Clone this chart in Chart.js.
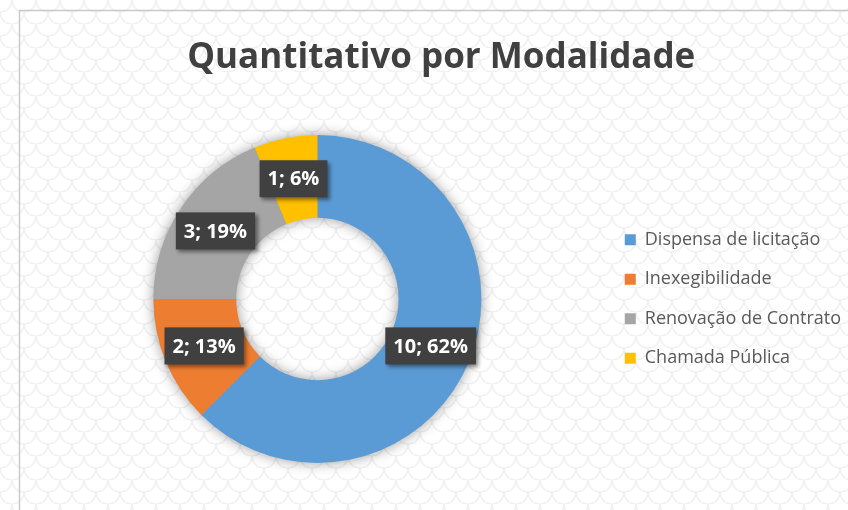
<!DOCTYPE html>
<html>
<head>
<meta charset="utf-8">
<script src="https://cdn.jsdelivr.net/npm/chart.js@4/dist/chart.umd.min.js"></script>
<style>
  html, body { margin: 0; padding: 0; background: #ffffff; }
  #wrap { width: 848px; height: 510px; }
</style>
</head>
<body>
<div id="wrap"><canvas id="c" width="848" height="510"></canvas></div>
<script>
// Quantity of procurements by modality
const chartTitle = 'Quantitativo por Modalidade';
const categories = ['Dispensa de licitação', 'Inexegibilidade', 'Renovação de Contrato', 'Chamada Pública'];
const counts = [10, 2, 3, 1];
const percentLabels = ['62%', '13%', '19%', '6%'];
const sliceColors = ['#5B9BD5', '#ED7D31', '#A5A5A5', '#FFC000'];

// Light scale texture for the page background
function makeScalePattern(ctx) {
  const tile = document.createElement('canvas');
  tile.width = 24; tile.height = 24;
  const t = tile.getContext('2d');
  t.fillStyle = '#ffffff';
  t.fillRect(0, 0, 24, 24);
  t.strokeStyle = '#f0f0f0';
  t.lineWidth = 1.6;
  const rows = [[0, 0], [12, 12], [0, 24]];
  rows.forEach(([ox, oy]) => {
    for (let k = -1; k <= 2; k++) {
      t.beginPath();
      t.arc(ox + k * 24, oy, 12, 0, Math.PI);
      t.stroke();
    }
  });
  return ctx.createPattern(tile, 'repeat');
}

const backgroundPlugin = {
  id: 'backgroundFrame',
  beforeDraw(chart) {
    const ctx = chart.ctx;
    ctx.save();
    ctx.fillStyle = makeScalePattern(ctx);
    ctx.fillRect(0, 0, chart.width, chart.height);
    ctx.strokeStyle = '#c9c9c9';
    ctx.lineWidth = 1.5;
    ctx.beginPath();
    ctx.moveTo(19.5, chart.height + 2);
    ctx.lineTo(19.5, 10.5);
    ctx.lineTo(chart.width + 2, 10.5);
    ctx.stroke();
    ctx.restore();
  }
};

// Soft shadow behind the whole ring
const ringShadowPlugin = {
  id: 'ringShadow',
  beforeDatasetsDraw(chart) {
    const arc = chart.getDatasetMeta(0).data[0];
    if (!arc) return;
    const { x, y, innerRadius, outerRadius } = arc.getProps(['x', 'y', 'innerRadius', 'outerRadius'], true);
    const ctx = chart.ctx;
    ctx.save();
    ctx.shadowColor = 'rgba(0,0,0,0.45)';
    ctx.shadowBlur = 14;
    ctx.fillStyle = '#9a9a9a';
    ctx.beginPath();
    ctx.arc(x, y, outerRadius - 1, 0, Math.PI * 2);
    ctx.arc(x, y, innerRadius + 1, 0, Math.PI * 2, true);
    ctx.fill('evenodd');
    ctx.restore();
  }
};

// Dark value callouts "n; p%" at the middle of each slice
const calloutPlugin = {
  id: 'callouts',
  afterDatasetsDraw(chart) {
    const ctx = chart.ctx;
    const meta = chart.getDatasetMeta(0);
    ctx.save();
    ctx.font = 'bold 20px "Open Sans", sans-serif';
    ctx.textAlign = 'center';
    ctx.textBaseline = 'middle';
    meta.data.forEach((arc, i) => {
      const text = counts[i] + '; ' + percentLabels[i];
      const p = arc.getCenterPoint();
      const w = ctx.measureText(text).width + 16;
      const h = 37;
      ctx.save();
      ctx.shadowColor = 'rgba(0,0,0,0.45)';
      ctx.shadowBlur = 4;
      ctx.shadowOffsetX = 2.5;
      ctx.shadowOffsetY = 2.5;
      ctx.fillStyle = '#404040';
      ctx.fillRect(p.x - w / 2, p.y - h / 2, w, h);
      ctx.restore();
      ctx.fillStyle = '#ffffff';
      ctx.fillText(text, p.x, p.y + 1);
    });
    ctx.restore();
  }
};

new Chart(document.getElementById('c'), {
  type: 'doughnut',
  data: {
    labels: categories,
    datasets: [{
      data: counts,
      backgroundColor: sliceColors,
      borderWidth: 0,
      hoverOffset: 0,
      offset: 0
    }]
  },
  options: {
    responsive: false,
    devicePixelRatio: 1,
    animation: false,
    events: [],
    cutout: '49.5%',
    layout: { padding: { left: 31.5, right: -3, top: 20, bottom: 47 } },
    plugins: {
      title: {
        display: true,
        text: chartTitle,
        color: '#404040',
        font: { family: '"Open Sans", sans-serif', size: 35, weight: 'bold', lineHeight: 1.2 },
        padding: { top: 17, bottom: 56 }
      },
      legend: {
        display: true,
        position: 'right',
        fullSize: false,
        labels: {
          color: '#595959',
          font: { family: '"Open Sans", sans-serif', size: 18 },
          boxWidth: 11,
          boxHeight: 11,
          padding: 21.5
        }
      },
      tooltip: { enabled: false }
    }
  },
  plugins: [backgroundPlugin, ringShadowPlugin, calloutPlugin]
});
</script>
</body>
</html>
